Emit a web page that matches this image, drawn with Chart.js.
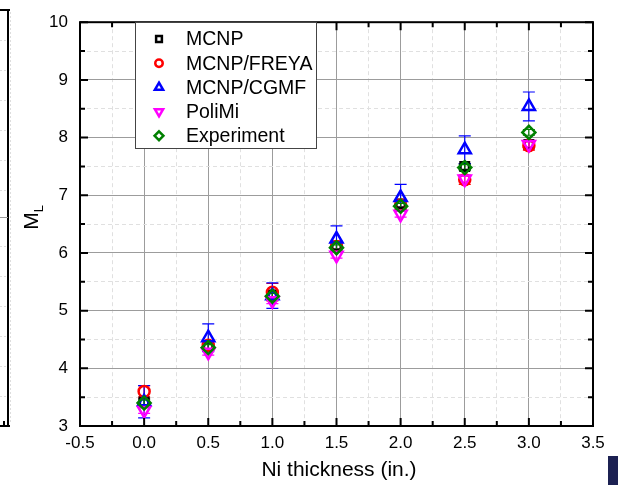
<!DOCTYPE html>
<html lang="en">
<head>
  <meta charset="UTF-8">
  <title>M_L vs Ni thickness</title>
  <script src="https://cdn.jsdelivr.net/npm/chart.js"></script>
  <style>
    body { margin: 0; background: #fff; }
    #wrap { position: relative; width: 618px; height: 485px; }
    #blk { position: absolute; left: 608px; top: 456px; width: 10px; height: 29px; background: #1c2152; }
  </style>
</head>
<body>
<div id="wrap">
  <canvas id="grafico" width="618" height="485"></canvas>
  <div id="blk"></div>
</div>

<script>
// data
const thickness = [0, 0.5, 1.0, 1.5, 2.0, 2.5, 3.0];
const mcnp      = [3.42, 4.38, 5.27, 6.12, 6.85, 7.50, 7.88];
const freya     = [3.60, 4.40, 5.32, 6.11, 6.83, 7.27, 7.86];
const cgmf      = [3.42, 4.53, 5.26, 6.24, 6.96, 7.79, 8.54];
const polimi    = [3.27, 4.28, 5.17, 5.96, 6.67, 7.28, 7.88];
const experim   = [3.40, 4.36, 5.25, 6.09, 6.81, 7.48, 8.09];
const errMcnp   = [0.05, 0.05, 0.05, 0.05, 0.05, 0.05, 0.05];
const errFreya  = [0.10, 0.08, 0.15, 0.08, 0.08, 0.08, 0.08];
const errCgmf   = [0.28, 0.24, 0.22, 0.23, 0.23, 0.24, 0.25];
const errPolimi = [0.05, 0.05, 0.05, 0.05, 0.05, 0.05, 0.05];
const errExp    = [0.05, 0.05, 0.05, 0.05, 0.05, 0.05, 0.05];
const xTicks = [-0.5, 0, 0.5, 1, 1.5, 2, 2.5, 3, 3.5];
const yTicks = [3, 4, 5, 6, 7, 8, 9, 10];

const serie = [
  { label: 'MCNP',       y: mcnp,    err: errMcnp,   color: '#000000', style: 'rect',     rot: 0,   r: 6 },
  { label: 'MCNP/FREYA', y: freya,   err: errFreya,  color: '#ff0000', style: 'circle',   rot: 0,   r: 5.5 },
  { label: 'MCNP/CGMF',  y: cgmf,    err: errCgmf,   color: '#0000ff', style: 'triangle', rot: 0,   r: 7 },
  { label: 'PoliMi',     y: polimi,  err: errPolimi, color: '#ff00ff', style: 'triangle', rot: 180, r: 7 },
  { label: 'Experiment', y: experim, err: errExp,    color: '#008000', style: 'rectRot',  rot: 0,   r: 6.5 }
];

const FONT = '"Liberation Sans", Arial, sans-serif';
const isMajorX = v => Math.abs(v * 2 - Math.round(v * 2)) < 1e-6;
const isMajorY = v => Math.abs(v - Math.round(v)) < 1e-6;

function marker(ctx, style, rot, x, y, r) {
  ctx.beginPath();
  if (style === 'circle') {
    ctx.arc(x, y, r, 0, Math.PI * 2);
  } else if (style === 'rect') {
    const s = r * Math.SQRT1_2;
    ctx.rect(x - s, y - s, 2 * s, 2 * s);
  } else if (style === 'rectRot') {
    ctx.moveTo(x, y - r); ctx.lineTo(x + r, y); ctx.lineTo(x, y + r); ctx.lineTo(x - r, y); ctx.closePath();
  } else {
    const d = rot === 180 ? -1 : 1;
    for (let k = 0; k < 3; k++) {
      const a = -Math.PI / 2 + k * 2 * Math.PI / 3;
      const px = x + Math.cos(a) * r, py = y + Math.sin(a) * r * d;
      k ? ctx.lineTo(px, py) : ctx.moveTo(px, py);
    }
    ctx.closePath();
  }
  ctx.stroke();
}

const decor = {
  id: 'decor',
  beforeDatasetsDraw(chart) {
    const { ctx, scales: { x, y } } = chart;
    ctx.save();
    ctx.lineWidth = 1.2;
    serie.forEach(s => {
      ctx.strokeStyle = s.color;
      thickness.forEach((t, i) => {
        const px = x.getPixelForValue(t);
        const y1 = y.getPixelForValue(s.y[i] + s.err[i]);
        const y2 = y.getPixelForValue(s.y[i] - s.err[i]);
        ctx.beginPath();
        ctx.moveTo(px, y1); ctx.lineTo(px, y2);
        ctx.moveTo(px - 6, y1); ctx.lineTo(px + 6, y1);
        ctx.moveTo(px - 6, y2); ctx.lineTo(px + 6, y2);
        ctx.stroke();
      });
    });
    ctx.restore();
  },
  afterDraw(chart) {
    const { ctx, chartArea: a, scales: { x, y } } = chart;
    ctx.save();
    // inward ticks
    ctx.strokeStyle = '#000';
    ctx.lineWidth = 2;
    x.ticks.forEach(t => {
      const px = x.getPixelForValue(t.value);
      const L = isMajorX(t.value) ? 8 : 5;
      ctx.beginPath();
      ctx.moveTo(px, a.bottom); ctx.lineTo(px, a.bottom - L);
      ctx.moveTo(px, a.top); ctx.lineTo(px, a.top + L);
      ctx.stroke();
    });
    y.ticks.forEach(t => {
      const py = y.getPixelForValue(t.value);
      const L = isMajorY(t.value) ? 8 : 5;
      ctx.beginPath();
      ctx.moveTo(a.left, py); ctx.lineTo(a.left + L, py);
      ctx.moveTo(a.right, py); ctx.lineTo(a.right - L, py);
      ctx.stroke();
    });
    // frame
    ctx.lineWidth = 2;
    ctx.strokeRect(a.left, a.top, a.right - a.left, a.bottom - a.top);

    // legend
    const lx = 135, ly = 22, lw = 181, lh = 126;
    ctx.fillStyle = '#fff';
    ctx.fillRect(lx, ly, lw, lh);
    ctx.strokeStyle = '#444';
    ctx.lineWidth = 1;
    ctx.strokeRect(lx + 0.5, ly + 0.5, lw, lh);
    ctx.font = '19.5px ' + FONT;
    ctx.textBaseline = 'middle';
    ctx.textAlign = 'left';
    serie.forEach((s, i) => {
      const cy = 39 + i * 24.2;
      ctx.strokeStyle = s.color;
      ctx.lineWidth = 2.5;
      marker(ctx, s.style, s.rot, 159, cy, s.r * 0.68);
      ctx.fillStyle = '#000';
      ctx.fillText(s.label, 186, cy + 1);
    });

    // axis titles
    ctx.fillStyle = '#000';
    ctx.font = '21px ' + FONT;
    ctx.textAlign = 'center';
    ctx.textBaseline = 'alphabetic';
    ctx.fillText('Ni thickness (in.)', 339, 476);
    ctx.save();
    ctx.translate(38, 218);
    ctx.rotate(-Math.PI / 2);
    ctx.textAlign = 'left';
    ctx.font = '21px ' + FONT;
    const mw = ctx.measureText('M').width;
    ctx.fillText('M', -mw / 2 - 3, 0);
    ctx.font = '13px ' + FONT;
    ctx.fillText('L', mw / 2 - 3, 5);
    ctx.restore();

    // edge of the neighbouring panel
    ctx.strokeStyle = '#000';
    ctx.lineWidth = 2;
    ctx.beginPath();
    ctx.moveTo(8, 10); ctx.lineTo(8, 426);
    ctx.moveTo(0, 10); ctx.lineTo(10, 10);
    ctx.moveTo(0, 426); ctx.lineTo(10, 426);
    ctx.moveTo(4, 421); ctx.lineTo(4, 426);
    ctx.stroke();
    ctx.strokeStyle = '#ddd';
    ctx.lineWidth = 1;
    ctx.setLineDash([2, 2]);
    ctx.beginPath();
    ctx.moveTo(10.5, 12); ctx.lineTo(10.5, 424);
    [40, 70, 100, 130, 160, 190, 246, 276, 306, 336, 366, 396].forEach(v => { ctx.moveTo(0, v + 0.5); ctx.lineTo(8, v + 0.5); });
    ctx.stroke();
    ctx.setLineDash([]);
    ctx.strokeStyle = '#999';
    ctx.beginPath();
    ctx.moveTo(0, 217.5); ctx.lineTo(8, 217.5);
    ctx.stroke();
    ctx.restore();
  }
};

const datasets = serie.map((s, i) => ({
  label: s.label,
  data: thickness.map((t, k) => ({ x: t, y: s.y[k] })),
  pointStyle: s.style,
  rotation: s.rot,
  pointRadius: s.r,
  pointBorderWidth: 2.5,
  borderColor: s.color,
  backgroundColor: 'rgba(0,0,0,0)',
  order: serie.length - i
}));

new Chart(document.getElementById('grafico'), {
  type: 'scatter',
  data: { datasets },
  options: {
    responsive: false,
    animation: false,
    layout: { padding: { top: 11, right: 25, left: 0, bottom: 0 } },
    plugins: { legend: { display: false }, tooltip: { enabled: false } },
    scales: {
      x: {
        type: 'linear', min: -0.5, max: 3.5,
        afterFit: s => { s.height = 59; },
        afterBuildTicks: s => {
          const t = [];
          for (let v = -0.5; v <= 3.5001; v += 0.25) t.push({ value: Math.round(v * 100) / 100 });
          s.ticks = t;
        },
        ticks: {
          padding: 7, color: '#000', autoSkip: false, maxRotation: 0,
          font: { family: FONT, size: 17 },
          callback: v => isMajorX(v) ? (xTicks.includes(v) ? v.toFixed(1) : '') : ''
        },
        grid: {
          drawTicks: false,
          color: c => isMajorX(c.tick.value) ? '#9c9c9c' : '#e0e0e0',
          lineWidth: 1
        },
        border: { display: false, dash: c => (c.tick && isMajorX(c.tick.value)) ? [] : [4, 3] }
      },
      y: {
        type: 'linear', min: 3, max: 10,
        afterFit: s => { s.width = 80; },
        afterBuildTicks: s => {
          const t = [];
          for (let v = 3; v <= 10.001; v += 0.5) t.push({ value: v });
          s.ticks = t;
        },
        ticks: {
          padding: 12, color: '#000', autoSkip: false,
          font: { family: FONT, size: 17 },
          callback: v => (isMajorY(v) && yTicks.includes(v)) ? String(v) : ''
        },
        grid: {
          drawTicks: false,
          color: c => isMajorY(c.tick.value) ? '#9c9c9c' : '#e0e0e0',
          lineWidth: 1
        },
        border: { display: false, dash: c => (c.tick && isMajorY(c.tick.value)) ? [] : [4, 3] }
      }
    }
  },
  plugins: [decor]
});
</script>
</body>
</html>
